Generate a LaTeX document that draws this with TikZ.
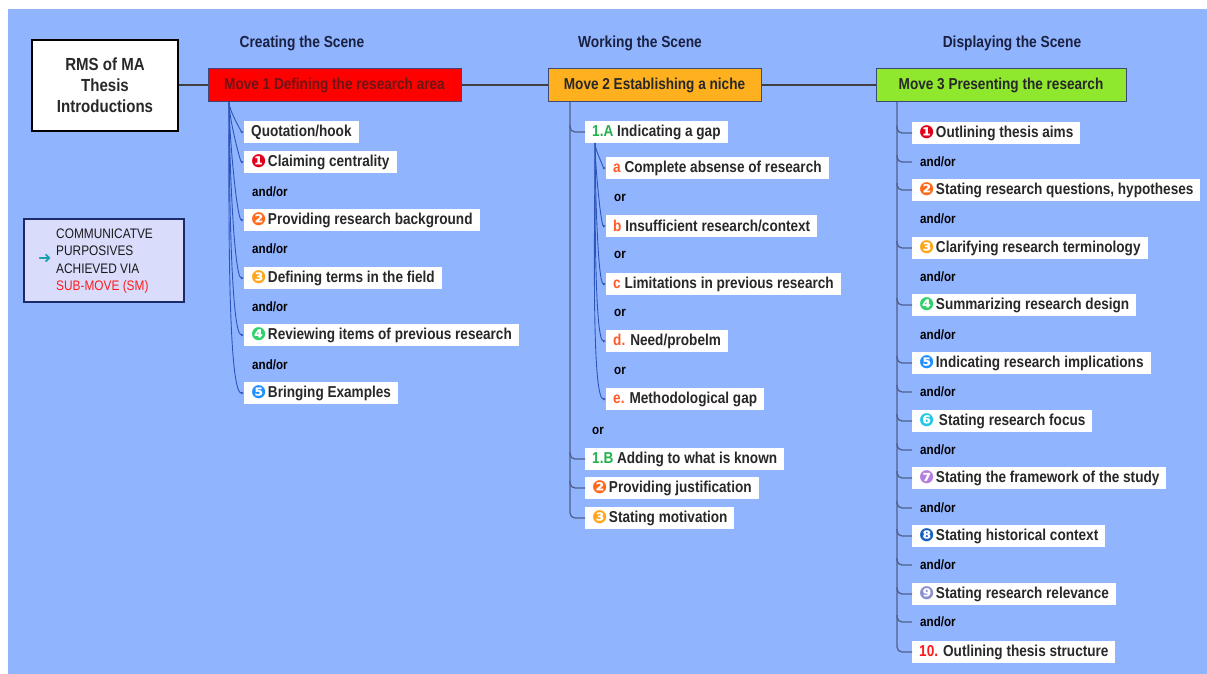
\documentclass[tikz,border=0pt]{standalone}
\usepackage{fontspec}
\setmainfont{Liberation Sans}[FakeStretch=0.86]
\newfontfamily\numfont{DejaVu Sans}
\usetikzlibrary{calc,arrows.meta}
\definecolor{bgblue}{RGB}{145,180,255}
\definecolor{movered}{RGB}{255,0,0}
\definecolor{moveorange}{RGB}{255,176,30}
\definecolor{movegreen}{RGB}{143,232,46}
\definecolor{moveborder}{RGB}{60,72,120}
\definecolor{headtext}{RGB}{25,32,64}
\definecolor{itemtext}{RGB}{40,40,40}
\definecolor{redtext}{RGB}{110,20,20}
\definecolor{legfill}{RGB}{217,221,251}
\definecolor{legborder}{RGB}{26,42,106}
\definecolor{branchblue}{RGB}{45,85,185}
\definecolor{trunkcol}{RGB}{80,95,140}
\definecolor{lettgreen}{RGB}{34,177,76}
\definecolor{lettorange}{RGB}{255,90,40}
\definecolor{tenred}{RGB}{255,26,26}
\definecolor{cA}{RGB}{224,0,26}
\definecolor{cB}{RGB}{255,106,26}
\definecolor{cC}{RGB}{255,165,26}
\definecolor{cD}{RGB}{46,209,106}
\definecolor{cE}{RGB}{30,144,255}
\definecolor{cF}{RGB}{34,200,230}
\definecolor{cG}{RGB}{178,126,224}
\definecolor{cH}{RGB}{21,96,192}
\definecolor{cI}{RGB}{138,144,208}
\definecolor{legteal}{RGB}{26,160,176}
\newcommand\cnum[2]{\raisebox{-0.5pt}{\numfont\fontsize{18}{18}\selectfont\color{#1}#2}\hspace{1.5pt}}
\newcommand\itemfont{\fontsize{15.8}{18}\selectfont\bfseries}
\begin{document}
\begin{tikzpicture}[x=1pt,y=-1pt,
  item/.style={fill=white, anchor=west, minimum height=22, inner xsep=7, inner ysep=0, font=\itemfont, text=itemtext},
  andor/.style={anchor=west, inner sep=0, font=\fontsize{13.5}{15}\selectfont\bfseries, text=black},
  movebox/.style={draw=moveborder, line width=1, minimum height=33, inner sep=0, font=\itemfont},
  header/.style={font=\fontsize{16}{18}\selectfont\bfseries, text=headtext},
  branch/.style={draw=branchblue, line width=0.9, -{Latex[length=3,width=3]}},
  trunk/.style={draw=trunkcol, line width=1.3, rounded corners=5},
  link/.style={draw={rgb,255:red,64;green,64;blue,64}, line width=2}
]
\useasboundingbox (0,0) rectangle (1207,674);
\fill[white] (0,0) rectangle (1207,674);
\fill[bgblue] (8,9) rectangle (1207,674);

% title
\node[draw=black, line width=2.5, fill=white, minimum width=146, minimum height=91, align=center,
  font=\fontsize{17.5}{21}\selectfont\bfseries, text=itemtext] (title) at (105,85.5) {RMS of MA\\Thesis\\Introductions};

% headers
\node[header] (h1) at (302,43) {Creating the Scene};
\node[header] (h2) at (640,43) {Working the Scene};
\node[header] (h3) at (1012,43) {Displaying the Scene};

% moves
\node[movebox, fill=movered, minimum width=253, text=redtext] (m1) at (334.5,85.5) {Move 1 Defining the research area};
\node[movebox, fill=moveorange, minimum width=213, text=itemtext] (m2) at (654.5,85.5) {Move 2 Establishing a niche};
\node[movebox, fill=movegreen, minimum width=250, text=itemtext] (m3) at (1001,85.5) {Move 3 Presenting the research};
\draw[link] (title.east) -- (m1.west);
\draw[link] (m1.east) -- (m2.west);
\draw[link] (m2.east) -- (m3.west);

% legend
\node[draw=legborder, line width=1.5, fill=legfill, minimum width=160, minimum height=83] (leg) at (104,260.5) {};
\node[anchor=west, inner sep=0, font=\numfont\fontsize{16}{16}\selectfont\bfseries, text=legteal] (legarrow) at (38,259) {➜};
\node[anchor=west, inner sep=0, align=left, font=\fontsize{13.8}{17.5}\selectfont, text={rgb,255:red,25;green,25;blue,25}] (legtext) at (56,261)
  {COMMUNICATVE\\PURPOSIVES\\ACHIEVED VIA\\\textcolor{tenred}{SUB-MOVE (SM)}};

% ---- Move 1 ----
\node[item] (q)  at (244,132) {Quotation/hook};
\node[item] (c1) at (244,162) {\cnum{cA}{❶}Claiming centrality};
\node[andor] (ao1) at (252,192) {and/or};
\node[item] (c2) at (244,220) {\cnum{cB}{❷}Providing research background};
\node[andor] (ao2) at (252,249) {and/or};
\node[item] (c3) at (244,278) {\cnum{cC}{❸}Defining terms in the field};
\node[andor] (ao3) at (252,307) {and/or};
\node[item] (c4) at (244,335) {\cnum{cD}{❹}Reviewing items of previous research};
\node[andor] (ao4) at (252,365) {and/or};
\node[item] (c5) at (244,393) {\cnum{cE}{❺}Bringing Examples};
\coordinate (m1r) at (229,102);
\foreach \t in {q,c1,c2,c3,c4,c5}
  \draw[branch] (m1r) to[out=-90,in=180,out looseness=0.7,in looseness=0.15] (\t.west);

% ---- Move 2 ----
\node[item] (ga) at (585,132) {\textcolor{lettgreen}{1.A} Indicating a gap};
\node[item] (sa) at (606,168) {\textcolor{lettorange}{a} Complete absense of research};
\node[andor] (or1) at (614,198) {or};
\node[item] (sb) at (606,226) {\textcolor{lettorange}{b} Insufficient research/context};
\node[andor] (or2) at (614,255) {or};
\node[item] (sc) at (606,284) {\textcolor{lettorange}{c} Limitations in previous research};
\node[andor] (or3) at (614,313) {or};
\node[item] (sd) at (606,341) {\textcolor{lettorange}{d.} Need/probelm};
\node[andor] (or4) at (614,371) {or};
\node[item] (se) at (606,399) {\textcolor{lettorange}{e.} Methodological gap};
\node[andor] (or5) at (592,431) {or};
\node[item] (gb) at (585,459) {\textcolor{lettgreen}{1.B} Adding to what is known};
\node[item] (gc) at (585,488) {\cnum{cB}{❷}Providing justification};
\node[item] (gd) at (585,518) {\cnum{cC}{❸}Stating motivation};
\coordinate (t2) at (570,102);
\draw[trunk] (t2) |- (gd.west);
\foreach \t in {ga,gb,gc}
  \draw[trunk] ($(t2 |- \t.west)+(0,-7)$) |- (\t.west);
\coordinate (gar) at (595,143);
\foreach \t in {sa,sb,sc,sd,se}
  \draw[branch] (gar) to[out=-90,in=180,out looseness=0.7,in looseness=0.15] (\t.west);

% ---- Move 3 ----
\node[item] (p1) at (912,133) {\cnum{cA}{❶}Outlining thesis aims};
\node[andor] (a1) at (920,162) {and/or};
\node[item] (p2) at (912,190) {\cnum{cB}{❷}Stating research questions, hypotheses};
\node[andor] (a2) at (920,219) {and/or};
\node[item] (p3) at (912,248) {\cnum{cC}{❸}Clarifying research terminology};
\node[andor] (a3) at (920,277) {and/or};
\node[item] (p4) at (912,305) {\cnum{cD}{❹}Summarizing research design};
\node[andor] (a4) at (920,335) {and/or};
\node[item] (p5) at (912,363) {\cnum{cE}{❺}Indicating research implications};
\node[andor] (a5) at (920,392) {and/or};
\node[item] (p6) at (912,421) {\cnum{cF}{❻}\hspace{3pt}Stating research focus};
\node[andor] (a6) at (920,450) {and/or};
\node[item] (p7) at (912,478) {\cnum{cG}{❼}Stating the framework of the study};
\node[andor] (a7) at (920,508) {and/or};
\node[item] (p8) at (912,536) {\cnum{cH}{❽}Stating historical context};
\node[andor] (a8) at (920,565) {and/or};
\node[item] (p9) at (912,594) {\cnum{cI}{❾}Stating research relevance};
\node[andor] (a9) at (920,622) {and/or};
\node[item] (p10) at (912,652) {\textcolor{tenred}{10.} Outlining thesis structure};
\coordinate (t3) at (897,102);
\draw[trunk] (t3) |- (p10.west);
\foreach \t in {p1,p2,p3,p4,p5,p6,p7,p8,p9}
  \draw[trunk] ($(t3 |- \t.west)+(0,-7)$) |- (\t.west);
\foreach \t in {a1,a5,a6,a7,a8,a9}
  \draw[trunk] ($(t3 |- \t.west)+(0,-7)$) |- ($(\t.west)+(-8,0)$);
\end{tikzpicture}
\end{document}
